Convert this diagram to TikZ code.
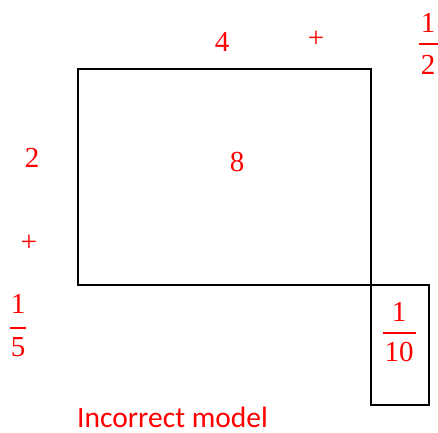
\documentclass[tikz,border=0pt]{standalone}
\usepackage{fontspec}
\setmainfont{Carlito}
\newfontfamily\numfont{Liberation Serif}
\begin{document}
\begin{tikzpicture}[x=1pt,y=-1pt,
  lbl/.style={text=red,inner sep=0pt,font=\fontsize{29}{34}\selectfont\numfont},
  fracbar/.style={draw=red,line width=2pt},
  caption/.style={text=red,inner sep=0pt,anchor=base west,font=\fontsize{29.5}{34}\selectfont},
  box/.style={draw=black,line width=1.6pt}]
\useasboundingbox (0,0) rectangle (438,432);
\node[box,minimum width=293pt,minimum height=216pt,inner sep=0pt,anchor=north west] (big) at (77,68) {};
\node[box,minimum width=58pt,minimum height=120pt,inner sep=0pt,anchor=north west] (small) at (370,284) {};
\node[lbl] (four) at (222,42) {4};
\node[lbl] (plusA) at (316,39) {+};
% 1/2
\node[lbl] (halfN) at (428,22.5) {1};
\node[lbl] (halfD) at (428,64.5) {2};
\coordinate (halfL) at (419,44);
\coordinate (halfR) at (438,44);
\draw[fracbar] (halfL) -- (halfR);
\node[lbl] (two) at (32,158) {2};
\node[lbl] (eight) at (237,162) {8};
\node[lbl] (plusB) at (29,243) {+};
% 1/5
\node[lbl] (fifthN) at (18,304) {1};
\node[lbl] (fifthD) at (18,347.5) {5};
\coordinate (fifthL) at (10,328);
\coordinate (fifthR) at (26,328);
\draw[fracbar] (fifthL) -- (fifthR);
% 1/10
\node[lbl] (tenthN) at (399,312) {1};
\node[lbl] (tenthD) at (399,352) {10};
\coordinate (tenthL) at (383,333);
\coordinate (tenthR) at (416,333);
\draw[fracbar] (tenthL) -- (tenthR);
\node[caption] (cap) at (77,427.5) {Incorrect model};
\end{tikzpicture}
\end{document}
